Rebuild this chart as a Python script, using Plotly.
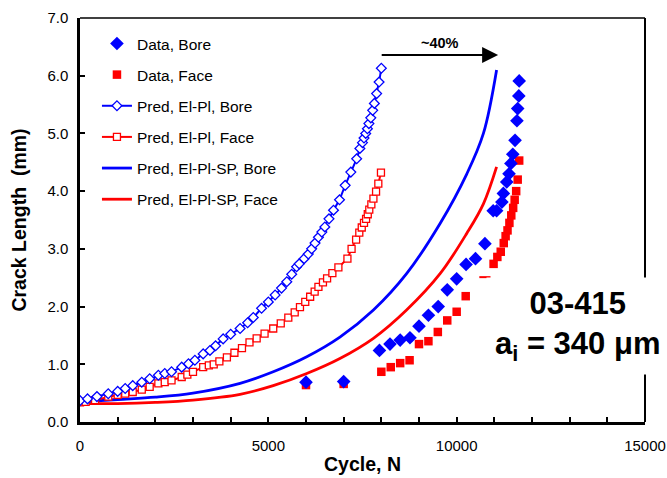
import plotly.graph_objects as go

BLUE = "#0000FF"
RED = "#FF0000"
FONT = "Arial, Liberation Sans, sans-serif"

# Data, Bore
data_bore_x = [6000, 7000, 7950, 8230, 8500, 8760, 9000, 9250, 9510, 9750, 10000, 10250, 10500, 10750,
               10970, 11060, 11200, 11240, 11330, 11390, 11440, 11490, 11550, 11600, 11620, 11650, 11660]
data_bore_y = [0.69, 0.70, 1.24, 1.35, 1.42, 1.46, 1.66, 1.85, 2.00, 2.29, 2.48, 2.73, 2.83, 3.09,
               3.66, 3.66, 3.81, 3.96, 4.16, 4.30, 4.48, 4.64, 4.88, 5.22, 5.43, 5.65, 5.91]

# Data, Face
data_face_x = [6000, 7000, 8000, 8250, 8500, 8750, 9000, 9250, 9500, 9750, 10000, 10240,
               10980, 11080, 11170, 11250, 11300, 11350, 11400, 11450, 11500, 11540, 11580, 11620, 11660]
data_face_y = [0.64, 0.66, 0.87, 0.95, 1.02, 1.07, 1.35, 1.40, 1.56, 1.76, 1.91, 2.18,
               2.74, 2.86, 2.95, 3.10, 3.22, 3.32, 3.45, 3.58, 3.71, 3.85, 4.00, 4.20, 4.53]

# stray dash mark seen in the reference
dash_x = [10750]
dash_y = [2.51]

# Pred, El-Pl, Bore
elpl_bore_x = [0, 200, 450, 750, 1000, 1200, 1400, 1640, 1850, 2080, 2250, 2430, 2700, 2880, 3050, 3270,
               3450, 3600, 3800, 4000, 4250, 4450, 4600, 4820, 5000, 5180, 5350, 5490, 5620, 5750, 5820,
               5950, 6060, 6150, 6240, 6330, 6420, 6500, 6610, 6730, 6890, 7040, 7190, 7345, 7430, 7500,
               7540, 7585, 7630, 7670, 7720, 7770, 7815, 7875, 7940, 8000]
elpl_bore_y = [0.37, 0.40, 0.44, 0.49, 0.53, 0.58, 0.63, 0.69, 0.75, 0.81, 0.84, 0.87, 0.95, 1.01, 1.07, 1.18,
               1.24, 1.32, 1.44, 1.52, 1.62, 1.72, 1.81, 1.97, 2.08, 2.20, 2.32, 2.43, 2.56, 2.69, 2.74,
               2.83, 2.91, 3.00, 3.10, 3.20, 3.29, 3.38, 3.52, 3.67, 3.85, 4.10, 4.33, 4.56, 4.74, 4.84,
               4.92, 5.00, 5.08, 5.17, 5.27, 5.40, 5.52, 5.69, 5.89, 6.13]

# Pred, El-Pl, Face
elpl_face_x = [0, 150, 400, 750, 1000, 1200, 1400, 1640, 1850, 2080, 2250, 2430, 2700, 2850, 3000, 3270,
               3420, 3550, 3700, 3900, 4100, 4300, 4500, 4690, 4900, 5130, 5330, 5530, 5700, 5840, 5980,
               6110, 6230, 6330, 6450, 6560, 6700, 6860, 7100, 7210, 7330, 7415, 7480, 7540, 7595, 7640,
               7680, 7735, 7790, 7860, 7920, 7990]
elpl_face_y = [0.34, 0.35, 0.38, 0.44, 0.47, 0.49, 0.52, 0.56, 0.61, 0.67, 0.69, 0.72, 0.78, 0.82, 0.87, 0.95,
               0.98, 1.00, 1.05, 1.12, 1.20, 1.28, 1.38, 1.45, 1.53, 1.62, 1.71, 1.81, 1.90, 1.99, 2.08,
               2.17, 2.26, 2.34, 2.42, 2.49, 2.58, 2.68, 2.83, 3.00, 3.16, 3.28, 3.37, 3.45, 3.52, 3.60,
               3.68, 3.77, 3.87, 3.99, 4.13, 4.32]

# Pred, El-Pl-SP, Bore
sp_bore_x = [0, 1000, 2000, 3000, 4250, 5130, 6020, 6900, 7790, 8670, 9560, 10270, 10710, 11060]
sp_bore_y = [0.35, 0.39, 0.43, 0.50, 0.67, 0.87, 1.13, 1.47, 1.94, 2.57, 3.44, 4.30, 5.00, 6.10]

# Pred, El-Pl-SP, Face
sp_face_x = [0, 1000, 2000, 3000, 4250, 5130, 6020, 6900, 7790, 8670, 9560, 10270, 10710, 11060]
sp_face_y = [0.32, 0.32, 0.34, 0.38, 0.48, 0.63, 0.84, 1.10, 1.45, 1.94, 2.57, 3.27, 3.78, 4.42]

x_tick_vals = [0, 5000, 10000, 15000]
x_tick_text = ["0", "5000", "10000", "15000"]

fig = go.Figure()

fig.add_trace(go.Scatter(x=sp_face_x, y=sp_face_y, mode="lines", name="Pred, El-Pl-SP, Face",
                         line=dict(color=RED, width=2.8, shape="spline", smoothing=1.0),
                         legendgroup="f", legendrank=6))
fig.add_trace(go.Scatter(x=sp_bore_x, y=sp_bore_y, mode="lines", name="Pred, El-Pl-SP, Bore",
                         line=dict(color=BLUE, width=2.8, shape="spline", smoothing=1.0),
                         legendgroup="e", legendrank=5))
fig.add_trace(go.Scatter(x=elpl_face_x, y=elpl_face_y, mode="lines+markers", name="Pred, El-Pl, Face",
                         line=dict(color=RED, width=2),
                         marker=dict(symbol="square", size=7, color="white", line=dict(color=RED, width=1.3)),
                         legendgroup="d", legendrank=4))
fig.add_trace(go.Scatter(x=elpl_bore_x, y=elpl_bore_y, mode="lines+markers", name="Pred, El-Pl, Bore",
                         line=dict(color=BLUE, width=2),
                         marker=dict(symbol="diamond", size=7.5, color="white", line=dict(color=BLUE, width=1.3)),
                         legendgroup="c", legendrank=3))
fig.add_trace(go.Scatter(x=dash_x, y=dash_y, mode="markers", showlegend=False, hoverinfo="skip",
                         marker=dict(symbol="line-ew", size=8, line=dict(color=RED, width=2))))
fig.add_trace(go.Scatter(x=data_face_x, y=data_face_y, mode="markers", name="Data, Face",
                         marker=dict(symbol="square", size=8.5, color=RED), legendgroup="b", legendrank=2))
fig.add_trace(go.Scatter(x=data_bore_x, y=data_bore_y, mode="markers", name="Data, Bore",
                         marker=dict(symbol="diamond", size=10.5, color=BLUE), legendgroup="a", legendrank=1))

fig.update_layout(
    width=667, height=478,
    margin=dict(l=80, r=22, t=18, b=56),
    paper_bgcolor="white", plot_bgcolor="white",
    font=dict(family=FONT, size=15, color="black"),
    showlegend=True,
    legend=dict(x=0.030, y=0.978, xanchor="left", yanchor="top", bgcolor="rgba(0,0,0,0)",
                font=dict(family=FONT, size=15.5, color="black"), tracegroupgap=8,
                traceorder="grouped", itemwidth=30),
    xaxis=dict(range=[0, 15000], tickvals=x_tick_vals, ticktext=x_tick_text, automargin=False,
               ticks="inside", ticklen=5, tickwidth=1.5, tickcolor="black",
               minor=dict(dtick=1000, ticks="inside", ticklen=5, tickwidth=1.5, tickcolor="black", showgrid=False),
               showline=True, linecolor="black", linewidth=2.5, showgrid=False, zeroline=False,
               ticklabelstandoff=8, tickfont=dict(family=FONT, size=15),
               title=dict(text="<b>Cycle, N</b>", font=dict(family=FONT, size=19.5), standoff=5)),
    yaxis=dict(range=[0, 7], dtick=1, tick0=0, tickformat=".1f", automargin=False,
               ticks="inside", ticklen=5, tickwidth=1.5, tickcolor="black",
               showline=True, linecolor="black", linewidth=2.5, showgrid=False, zeroline=False,
               ticklabelstandoff=6, tickfont=dict(family=FONT, size=15),
               title=dict(text="<b>Crack Length\u00a0 (mm)</b>", font=dict(family=FONT, size=19.5), standoff=16)),
)

# top and right frame lines
fig.add_shape(type="line", xref="paper", yref="paper", x0=0, x1=1, y0=1, y1=1,
              line=dict(color="black", width=1.5))
fig.add_shape(type="line", xref="paper", yref="paper", x0=1, x1=1, y0=0, y1=1,
              line=dict(color="black", width=2))

# arrow ~40%
fig.add_annotation(x=11100, y=6.36, ax=7970, ay=6.36, xref="x", yref="y", axref="x", ayref="y",
                   text="", showarrow=True, arrowhead=2, arrowsize=1.6, arrowwidth=2, arrowcolor="black")
fig.add_annotation(x=9550, y=6.56, xref="x", yref="y", text="<b>~40%</b>", showarrow=False,
                   font=dict(family=FONT, size=14.5, color="black"))

# specimen label
fig.add_annotation(x=13221, y=1.66, xref="x", yref="y",
                   text="<b>03-415</b><br><b>a<sub>i</sub> = 340 μm</b>",
                   showarrow=False, bgcolor="white", borderpad=8,
                   font=dict(family=FONT, size=31, color="black"))

# remove the default page margin so the figure fills the 667x478 window exactly
fig.write_html("out.html", config={"displayModeBar": False},
               post_script="document.body.style.margin='0';document.body.style.overflow='hidden';")
